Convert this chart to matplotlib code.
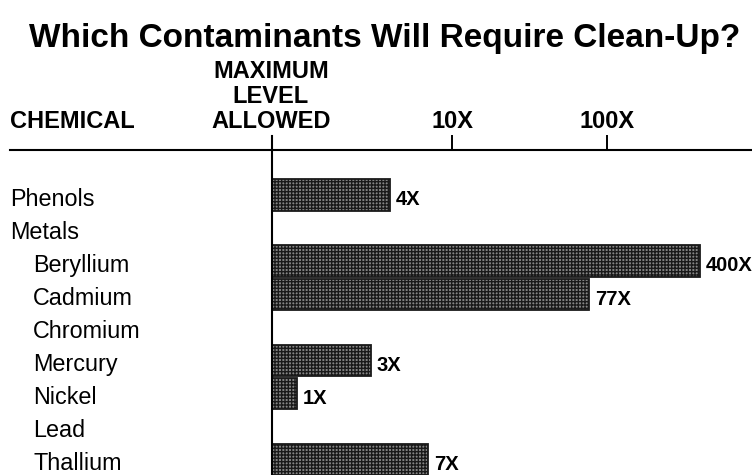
import numpy as np
import matplotlib
matplotlib.use("Agg")
import matplotlib.pyplot as plt
from matplotlib.lines import Line2D
from matplotlib.ticker import NullLocator, FixedLocator, FixedFormatter

plt.rcParams['font.family'] = ['Liberation Sans', 'DejaVu Sans']
plt.rcParams['hatch.linewidth'] = 1.0

# ---- data ----
chemicals = ["Phenols", "Metals", "Beryllium", "Cadmium", "Chromium",
             "Mercury", "Nickel", "Lead", "Thallium"]
indented = [False, False, True, True, True, True, True, True, True]
times_limit = [4, None, 400, 77, None, 3, 1, None, 7]
value_labels = ["4X", "", "400X", "77X", "", "3X", "1X", "", "7X"]
tick_values = [10, 100]
tick_labels = ["10X", "100X"]
title = "Which Contaminants Will Require Clean-Up?"
header_left = "CHEMICAL"
header_axis = ["MAXIMUM", "LEVEL", "ALLOWED"]

W, H = 752, 475
fig = plt.figure(figsize=(W / 100, H / 100), dpi=100)
fig.patch.set_facecolor("white")

XMIN, XMAX = 0.69, 861
ax = fig.add_axes([272 / W, 0, 480 / W, (475 - 150) / H])
ax.set_xscale("log")
ax.set_xlim(XMIN, XMAX)
ax.set_ylim(8.46, -1.36)

for i, v in enumerate(times_limit):
    if v is None:
        continue
    ax.barh(i, v - XMIN, left=XMIN, height=0.95, facecolor="#858585",
            edgecolor="#1a1a1a", hatch="+++++", linewidth=1.3, zorder=2)
    ax.text(v * 1.09, i + 0.31, value_labels[i], fontsize=14.5,
            fontweight="bold", ha="left", va="baseline", clip_on=False)

# spines / ticks
for s in ax.spines.values():
    s.set_visible(False)
ax.yaxis.set_visible(False)
ax.xaxis.tick_top()
ax.xaxis.set_major_locator(FixedLocator(tick_values))
ax.xaxis.set_major_formatter(FixedFormatter(tick_labels))
ax.xaxis.set_minor_locator(NullLocator())
ax.tick_params(axis="x", which="major", direction="out", length=10.8,
               width=1.4, color="black", pad=1.5, labelsize=17)
for lbl in ax.get_xticklabels():
    lbl.set_fontweight("bold")

# vertical "maximum level" line extended above axis
ax.axvline(XMIN, ymin=0, ymax=1 + 14 / 325, color="black", lw=1.5,
           clip_on=False, zorder=3)
# horizontal header line
fig.add_artist(Line2D([10 / W, 1], [1 - 150 / H, 1 - 150 / H],
                      transform=fig.transFigure, color="black", lw=1.5))

# row labels
ytr = matplotlib.transforms.blended_transform_factory(fig.transFigure, ax.transData)
for i, name in enumerate(chemicals):
    x = 33 / W if indented[i] else 10 / W
    ax.text(x, i + 0.32, name, fontsize=16.8, ha="left", va="baseline",
            transform=ytr, clip_on=False)

# title and headers
fig.text(385 / W, 1 - 47 / H, title, fontsize=24, fontweight="bold",
         ha="center", va="baseline")
fig.text(10 / W, 1 - 128 / H, header_left, fontsize=17, fontweight="bold",
         ha="left", va="baseline")
for line, yb in zip(header_axis, [78, 103, 128]):
    fig.text(271 / W, 1 - yb / H, line, fontsize=17, fontweight="bold",
             ha="center", va="baseline")

fig.savefig("out.png", dpi=100, facecolor="white")
